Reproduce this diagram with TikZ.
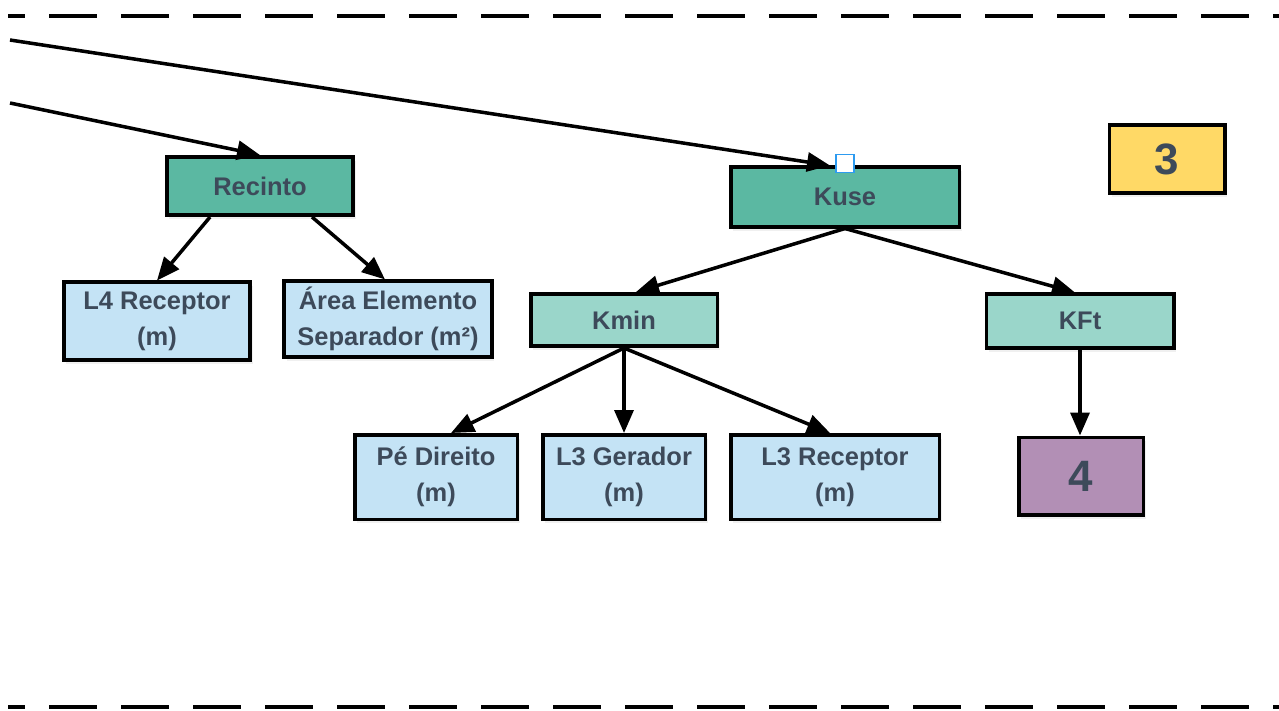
\documentclass[tikz,border=0pt]{standalone}
\usepackage{fontspec}
\setmainfont{Liberation Sans}
\usepackage{tikz}
\usepackage{xcolor}
\usetikzlibrary{arrows.meta, positioning, shadows}
\definecolor{TreeText}{HTML}{3D4A5A}
\definecolor{TreeTeal}{HTML}{5BB8A2}
\definecolor{TreeMint}{HTML}{9AD6CA}
\definecolor{TreeSky}{HTML}{C4E3F5}
\definecolor{TreePlum}{HTML}{B28FB5}
\definecolor{TreeGold}{HTML}{FFD966}
\definecolor{TreeHandle}{HTML}{2D9BF0}
\tikzset{
    % Node styles
    basebox/.style={
        rectangle,
        draw=black,
        line width=2pt,
        text=TreeText,
        align=center,
        font=\fontsize{14.5}{20.5}\selectfont\bfseries,
        drop shadow={opacity=0.12, shadow xshift=0.05cm, shadow yshift=-0.08cm}
    },
    mainbox/.style={
        basebox,
        fill=TreeTeal
    },
    subbox/.style={
        basebox,
        fill=TreeMint
    },
    inputbox/.style={
        basebox,
        fill=TreeSky
    },
    tagbox/.style={
        basebox,
        font=\fontsize{25}{30}\selectfont\bfseries
    },
    % Arrow styles
    myarrow/.style={
        -{Triangle[length=0.46cm, width=0.38cm]},
        line width=2pt,
        black
    },
    % Frame lines
    framedash/.style={
        line width=2.8pt,
        dash pattern=on 0.96cm off 0.48cm,
        dash phase=0.62cm
    }
}
\begin{document}
\begin{tikzpicture}
                \useasboundingbox (0,0) rectangle (25.58,-14.2);

                % Frame lines
                \draw[framedash] (0.16,-0.32) -- (25.58,-0.32);
                \draw[framedash] (0.16,-14.14) -- (25.58,-14.14);

                % Incoming links
                \coordinate (inA) at (0.2,-0.8);
                \coordinate (inB) at (0.2,-2.06);

                % Recinto branch
                \node[mainbox,minimum width=3.73cm,minimum height=1.17cm] (recinto) at (5.20,-3.72) {Recinto};
                \node[inputbox,minimum width=3.73cm,minimum height=1.55cm] (lquatro) at (3.14,-6.42) {L4 Receptor\\(m)};
                \node[inputbox,minimum width=4.15cm,minimum height=1.39cm] (area) at (7.76,-6.38) {Área Elemento\\Separador (m²)};

                % Kuse branch
                \node[mainbox,minimum width=4.57cm,minimum height=1.19cm] (kuse) at (16.90,-3.94) {Kuse};
                \node[subbox,minimum width=3.73cm,minimum height=1.05cm] (kmin) at (12.48,-6.40) {Kmin};
                \node[subbox,minimum width=3.75cm,minimum height=1.07cm] (kft) at (21.60,-6.42) {KFt};
                \node[inputbox,minimum width=3.25cm,minimum height=1.69cm] (pedireito) at (8.72,-9.54) {Pé Direito\\(m)};
                \node[inputbox,minimum width=3.25cm,minimum height=1.69cm] (ltresger) at (12.48,-9.54) {L3 Gerador\\(m)};
                \node[inputbox,minimum width=4.17cm,minimum height=1.69cm] (ltresrec) at (16.70,-9.54) {L3 Receptor\\(m)};

                % Tags
                \node[tagbox,fill=TreePlum,minimum width=2.49cm,minimum height=1.55cm] (quatro) at (21.62,-9.52) {4};
                \node[tagbox,fill=TreeGold,minimum width=2.31cm,minimum height=1.35cm] (tres) at (23.34,-3.18) {3};

                \draw[myarrow] (inA) -- ([xshift=-0.3cm]kuse.north);
                \draw[myarrow] (inB) -- (recinto.north);
                \draw[myarrow] ([xshift=-1cm]recinto.south) -- (lquatro.north);
                \draw[myarrow] ([xshift=1.04cm]recinto.south) -- ([xshift=-0.06cm]area.north);
                \draw[myarrow] (kuse.south) -- ([xshift=0.24cm]kmin.north);
                \draw[myarrow] (kuse.south) -- ([xshift=-0.1cm]kft.north);
                \draw[myarrow] (kmin.south) -- ([xshift=0.3cm]pedireito.north);
                \draw[myarrow] (kmin.south) -- (ltresger.north);
                \draw[myarrow] (kmin.south) -- ([xshift=-0.1cm]ltresrec.north);
                \draw[myarrow] (kft.south) -- (quatro.north -| kft.south);

                % Selection handle
                \node[rectangle,draw=TreeHandle,fill=white,line width=0.8pt,minimum size=0.36cm,inner sep=0pt] (handle) at ([yshift=0.04cm]kuse.north) {};
            \end{tikzpicture}
\end{document}
